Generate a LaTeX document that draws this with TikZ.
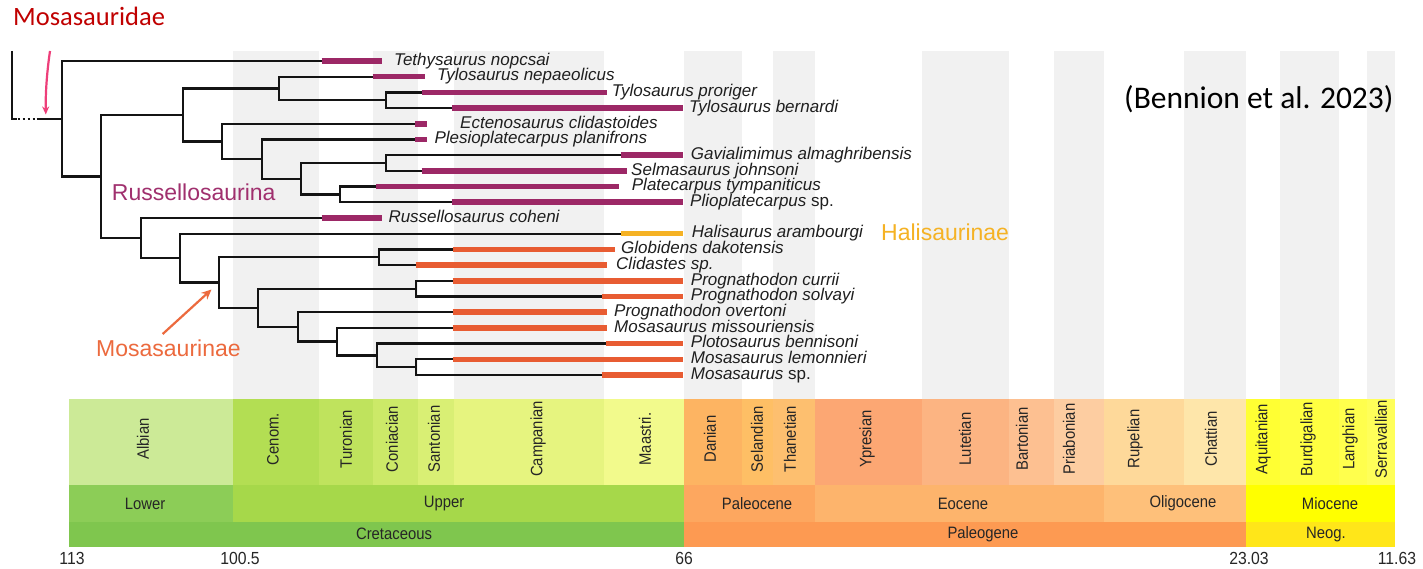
\documentclass[tikz,border=0pt]{standalone}
\usepackage{fontspec}
\setmainfont{Liberation Sans}
\newfontfamily\calib{Carlito}
\newfontfamily\narrowsans[FakeStretch=0.9]{Liberation Sans}
\usetikzlibrary{arrows.meta}
\definecolor{cPurp}{HTML}{9C2866}
\definecolor{cOra}{HTML}{E85C32}
\definecolor{cHal}{HTML}{F5B224}
\definecolor{cPink}{HTML}{EE3F7A}
\definecolor{cMosLab}{HTML}{EC6A3E}
\definecolor{cRusLab}{HTML}{A0306E}
\definecolor{cRed}{HTML}{C00000}
\definecolor{cStripe}{HTML}{F1F1F1}
% stages
\definecolor{cAlb}{HTML}{CCEA97}
\definecolor{cCen}{HTML}{B3DE53}
\definecolor{cTur}{HTML}{BFE35D}
\definecolor{cCon}{HTML}{CCE968}
\definecolor{cSan}{HTML}{D9EF74}
\definecolor{cCam}{HTML}{E6F47F}
\definecolor{cMaa}{HTML}{F2FA8C}
\definecolor{cDan}{HTML}{FDB462}
\definecolor{cSel}{HTML}{FEBF65}
\definecolor{cTha}{HTML}{FDBF6F}
\definecolor{cYpr}{HTML}{FCA773}
\definecolor{cLut}{HTML}{FCB482}
\definecolor{cBar}{HTML}{FDC091}
\definecolor{cPri}{HTML}{FDCDA1}
\definecolor{cRup}{HTML}{FED99A}
\definecolor{cCha}{HTML}{FEE6AA}
\definecolor{cAqu}{HTML}{FFFF33}
\definecolor{cBur}{HTML}{FFFF41}
\definecolor{cLan}{HTML}{FFFF4D}
\definecolor{cSer}{HTML}{FFFF59}
% epochs / periods
\definecolor{cLow}{HTML}{8CCD57}
\definecolor{cUpp}{HTML}{A6D84A}
\definecolor{cPal}{HTML}{FDA75F}
\definecolor{cEoc}{HTML}{FDB46C}
\definecolor{cOli}{HTML}{FEC07A}
\definecolor{cMio}{HTML}{FFFF00}
\definecolor{cCre}{HTML}{7FC64E}
\definecolor{cPgn}{HTML}{FD9A52}
\definecolor{cNeo}{HTML}{FFE619}
\begin{document}
\begin{tikzpicture}[x=1pt,y=-1pt,
  branch/.style={line width=2.3pt, draw=black!92},
  rangebar/.style={line width=5.6pt},
  taxon/.style={anchor=base west, inner sep=0pt, text=black!88, font=\fontsize{17}{17}\selectfont\itshape},
  stagelab/.style={rotate=90, inner sep=0pt, text=black!85, font=\narrowsans\fontsize{16.5}{16.5}\selectfont},
  unitlab/.style={inner sep=0pt, text=black!85, font=\narrowsans\fontsize{16.5}{16.5}\selectfont},
  numlab/.style={inner sep=0pt, text=black!85, font=\narrowsans\fontsize{17.5}{17.5}\selectfont},
  clade/.style={anchor=base west, inner sep=0pt, font=\fontsize{23}{23}\selectfont}]
\useasboundingbox (0,0) rectangle (1423,569);
\fill[white] (0,0) rectangle (1423,569);

% grey stage stripes behind the tree
\foreach \a/\b in {232.6/318.9, 372.6/418.4, 453.7/604.2, 684/741.6, 773/814.8, 922.1/1008.5, 1054.2/1104, 1183.6/1246.3, 1280.2/1338.7, 1366.8/1395.4}
  \fill[cStripe] (\a,51) rectangle (\b,399);

% stages
\foreach \a/\b/\c/\n/\xc [count=\i] in {
  69/232.6/cAlb/Albian/143, 232.6/318.9/cCen/Cenom./273, 318.9/372.6/cTur/Turonian/346,
  372.6/418.4/cCon/Coniacian/392, 418.4/453.7/cSan/Santonian/434, 453.7/604.2/cCam/Campanian/538,
  604.2/684/cMaa/Maastri./645, 684/741.6/cDan/Danian/710, 741.6/773/cSel/Selandian/757,
  773/814.8/cTha/Thanetian/790, 814.8/922.1/cYpr/Ypresian/867, 922.1/1008.5/cLut/Lutetian/965,
  1008.5/1054.2/cBar/Bartonian/1022, 1054.2/1104/cPri/Priabonian/1069, 1104/1183.6/cRup/Rupelian/1135,
  1183.6/1246.3/cCha/Chattian/1211, 1246.3/1280.2/cAqu/Aquitanian/1263, 1280.2/1338.7/cBur/Burdigalian/1308,
  1338.7/1366.8/cLan/Langhian/1350, 1366.8/1395.4/cSer/Serravallian/1381}
{
  \fill[\c] (\a,399) rectangle (\b,485);
  \node[stagelab] (stage\i) at (\xc,439) {\n};
}
% epochs
\foreach \a/\b/\c/\n/\xc [count=\i] in {
  69/232.6/cLow/Lower/145, 232.6/684/cUpp/Upper/444, 684/814.8/cPal/Paleocene/757,
  814.8/1104/cEoc/Eocene/963, 1104/1246.3/cOli/Oligocene/1183, 1246.3/1395.4/cMio/Miocene/1330}
{
  \fill[\c] (\a,485) rectangle (\b,522);
  \node[unitlab] (epoch\i) at (\xc,503.5) {\n};
}
% periods
\foreach \a/\b/\c/\n/\xc [count=\i] in {
  69/684/cCre/Cretaceous/394, 684/1246.3/cPgn/Paleogene/983, 1246.3/1395.4/cNeo/Neog./1326}
{
  \fill[\c] (\a,522) rectangle (\b,546.5);
  \node[unitlab] (period\i) at (\xc,534.3) {\n};
}
% ages
\node[numlab] (a1) at (72,558) {113};
\node[numlab] (a2) at (240,558) {100.5};
\node[numlab] (a3) at (684,558) {66};
\node[numlab] (a4) at (1249,558) {23.03};
\node[numlab] (a5) at (1397,558) {11.63};

% ---------- tree ----------
% internal nodes
\coordinate (N0) at (62.3,118.75);
\coordinate (N1) at (101,176.5);
\coordinate (N2) at (182.7,114.97);
\coordinate (N3) at (279.3,88.475);
\coordinate (N3b) at (385.7,100.25);
\coordinate (N4) at (221.7,141.46);
\coordinate (N5) at (261.7,159.125);
\coordinate (N6) at (301,178.75);
\coordinate (N7) at (385.7,163.05);
\coordinate (N8) at (340,194.45);
\coordinate (NR) at (140.7,238.06);
\coordinate (NH) at (180,258.11);
\coordinate (M0) at (219.3,282.52);
\coordinate (M1) at (379.3,257.25);
\coordinate (M2) at (258.3,307.79);
\coordinate (M3) at (416,288.65);
\coordinate (M4) at (297.7,326.92);
\coordinate (M5) at (337.3,341.64);
\coordinate (M6) at (376.7,355.375);
\coordinate (M7) at (416,367.15);

% tips: bar start (t) and bar end (e)
\foreach \i/\s/\e/\y in {1/321.7/382.3/61, 2/372.7/425/76.7, 3/421.7/606.7/92.4, 4/452.3/683.3/108.1,
  5/415/427.3/123.8, 6/415/427.3/139.5, 7/620.7/683.3/155.2, 8/421.7/626.7/170.9,
  9/376/619/186.6, 10/451.7/683.3/202.3, 11/321.7/381.7/218, 12/620.7/683.3/233.7,
  13/452.7/615/249.4, 14/415.7/606.7/265.1, 15/452.7/683.3/280.8, 16/601.7/683.3/296.5,
  17/452.7/606.7/312.2, 18/452.7/606.7/327.9, 19/606/683.3/343.6, 20/452.7/683.3/359.3,
  21/601.7/683.3/375}
{
  \coordinate (t\i) at (\s,\y);
  \coordinate (e\i) at (\e,\y);
}

% stem
\coordinate (s0) at (11.7,51);
\coordinate (s1) at (16.7,118.75);
\coordinate (s2) at (17.5,118.75);
\coordinate (s3) at (36,118.75);
\coordinate (s4) at (36.7,118.75);
\draw[branch] (s0) |- (s1);
\draw[branch, dash pattern=on 2pt off 3pt] (s2) -- (s3);
\draw[branch] (s4) -- (N0);

% branches
\foreach \p/\c in {N0/t1, N0/N1, N1/N2, N1/NR, N2/N3, N2/N4, N3/t2, N3/N3b, N3b/t3, N3b/t4,
  N4/t5, N4/N5, N5/t6, N5/N6, N6/N7, N6/N8, N7/t7, N7/t8, N8/t9, N8/t10,
  NR/t11, NR/NH, NH/t12, NH/M0, M0/M1, M0/M2, M1/t13, M1/t14, M2/M3, M2/M4,
  M3/t15, M3/t16, M4/t17, M4/M5, M5/t18, M5/M6, M6/t19, M6/M7, M7/t20, M7/t21}
  \draw[branch] (\p) |- (\c);

% range bars
\foreach \i in {1,...,11} \draw[rangebar, cPurp] (t\i) -- (e\i);
\draw[rangebar, cHal] (t12) -- (e12);
\foreach \i in {13,...,21} \draw[rangebar, cOra] (t\i) -- (e\i);

% taxon labels
\node[taxon] (l1) at (394,65.3) {Tethysaurus nopcsai};
\node[taxon] (l2) at (437,81) {Tylosaurus nepaeolicus};
\node[taxon] (l3) at (611.7,96.7) {Tylosaurus proriger};
\node[taxon] (l4) at (689,112.4) {Tylosaurus bernardi};
\node[taxon] (l5) at (460,128.1) {Ectenosaurus clidastoides};
\node[taxon] (l6) at (434.3,143.8) {Plesioplatecarpus planifrons};
\node[taxon] (l7) at (690.7,159.5) {Gavialimimus almaghribensis};
\node[taxon] (l8) at (631,175.2) {Selmasaurus johnsoni};
\node[taxon] (l9) at (631.7,190.9) {Platecarpus tympaniticus};
\node[taxon] (l10) at (690,206.6) {Plioplatecarpus\/ \upshape sp.};
\node[taxon] (l11) at (388.3,222.3) {Russellosaurus coheni};
\node[taxon] (l12) at (691.7,238) {Halisaurus arambourgi};
\node[taxon] (l13) at (621,253.7) {Globidens dakotensis};
\node[taxon] (l14) at (616,269.4) {Clidastes sp.};
\node[taxon] (l15) at (690.7,285.1) {Prognathodon currii};
\node[taxon] (l16) at (690.7,300.8) {Prognathodon solvayi};
\node[taxon] (l17) at (614,316.5) {Prognathodon overtoni};
\node[taxon] (l18) at (614,332.2) {Mosasaurus missouriensis};
\node[taxon] (l19) at (690.7,347.9) {Plotosaurus bennisoni};
\node[taxon] (l20) at (690.7,363.6) {Mosasaurus lemonnieri};
\node[taxon] (l21) at (690.7,379.3) {Mosasaurus\/ \upshape sp.};

% clade labels
\node[clade, text=cRusLab] (russ) at (111.7,201) {Russellosaurina};
\node[clade, text=cMosLab] (mosa) at (96,356) {Mosasaurinae};
\node[clade, text=cHal] (hali) at (881,241) {Halisaurinae};

% arrows
\coordinate (pa0) at (50,51);
\coordinate (pa1) at (45.8,114.5);
\draw[cPink, line width=2.2pt, -{Stealth[length=8pt,width=7pt]}] (pa0) .. controls (46.5,75) and (45.5,95) .. (pa1);
\coordinate (ma0) at (162.7,334);
\coordinate (ma1) at (211.5,289.5);
\draw[cMosLab, line width=2.2pt, -{Stealth[length=10pt,width=9pt]}] (ma0) -- (ma1);

% titles
\node[anchor=base west, inner sep=0pt, text=cRed, font=\calib\fontsize{26.5}{26.5}\selectfont] (title) at (13,26) {Mosasauridae};
\node[anchor=base west, inner sep=0pt, text=black, font=\calib\fontsize{31.5}{31.5}\selectfont] (ref) at (1124,108.5) {(Bennion et al. 2023)};
\end{tikzpicture}
\end{document}
